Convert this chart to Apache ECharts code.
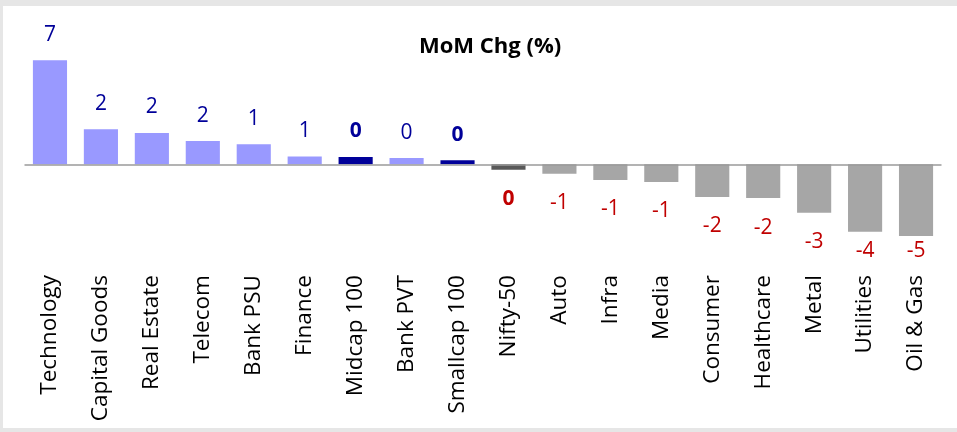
<!DOCTYPE html>
<html>
<head>
<meta charset="utf-8">
<script src="https://cdn.jsdelivr.net/npm/echarts@6/dist/echarts.min.js"></script>
<style>
  html, body { margin: 0; padding: 0; background: #fff; }
  #chart { width: 957px; height: 432px; }
</style>
</head>
<body>
<div id="chart"></div>
<script>
const categories = ['Technology', 'Capital Goods', 'Real Estate', 'Telecom', 'Bank PSU', 'Finance',
  'Midcap 100', 'Bank PVT', 'Smallcap 100', 'Nifty-50', 'Auto', 'Infra', 'Media', 'Consumer',
  'Healthcare', 'Metal', 'Utilities', 'Oil & Gas']
const momChg = [6.84, 2.30, 2.06, 1.53, 1.32, 0.51, 0.48, 0.41, 0.26, -0.36, -0.62, -1.03, -1.16,
  -2.15, -2.22, -3.18, -4.43, -4.72]
// index rows get dark bars and bold labels
const indexNames = ['Midcap 100', 'Smallcap 100', 'Nifty-50']

const FONT = '"Open Sans", "Noto Sans", sans-serif'
const Y_MIN = -6.5
const Y_MAX = 7.5

const chart = echarts.init(document.getElementById('chart'))

function barColor(name, v) {
  const isIdx = indexNames.includes(name)
  if (v >= 0) return isIdx ? '#000099' : '#9999ff'
  return isIdx ? '#595959' : '#a6a6a6'
}

function buildData(distances) {
  return momChg.map((v, i) => {
    const name = categories[i]
    const isIdx = indexNames.includes(name)
    return {
      value: v,
      itemStyle: { color: barColor(name, v) },
      label: {
        position: v >= 0 ? 'top' : 'bottom',
        distance: distances ? distances[i] : (v >= 0 ? 15 : 19),
        color: v >= 0 ? '#000099' : '#c00000',
        fontWeight: isIdx ? 'bold' : 'normal'
      }
    }
  })
}

chart.setOption({
  animation: false,
  title: {
    text: 'MoM Chg (%)',
    left: 414,
    top: 31,
    textStyle: { fontFamily: FONT, fontSize: 22, fontWeight: 'bold', color: '#000' }
  },
  grid: { left: 24.5, right: 15.5, top: 50.3, bottom: 168.9, containLabel: false },
  xAxis: {
    type: 'category',
    data: categories,
    axisLine: { show: false, onZero: false },
    axisTick: { show: false },
    axisLabel: {
      rotate: 90,
      interval: 0,
      margin: 12,
      fontFamily: FONT,
      fontSize: 22.5,
      color: '#000'
    }
  },
  yAxis: {
    type: 'value',
    min: Y_MIN,
    max: Y_MAX,
    show: false,
    splitLine: { show: false }
  },
  series: [{
    type: 'bar',
    data: buildData(null),
    barCategoryGap: '33%',
    label: {
      show: true,
      fontFamily: FONT,
      fontSize: 21,
      formatter: p => String(Math.round(p.value) || 0)
    },
    markLine: {
      silent: true,
      symbol: 'none',
      label: { show: false },
      lineStyle: { color: '#9a9a9a', width: 1.5, type: 'solid' },
      data: [{ yAxis: 0 }]
    },
    z: 2
  }],
  graphic: [
    { type: 'rect', shape: { x: 0, y: 0, width: 957, height: 6 }, style: { fill: '#e6e6e6' } },
    { type: 'rect', shape: { x: 0, y: 0, width: 3, height: 432 }, style: { fill: '#e6e6e6' } },
    { type: 'rect', shape: { x: 0, y: 428, width: 957, height: 4 }, style: { fill: '#e6e6e6' } }
  ]
})

// keep negative labels inside the plot: squeeze the distance for the deepest bars
const floorPx = chart.convertToPixel({ yAxisIndex: 0 }, Y_MIN) - 12
const distances = momChg.map(v => {
  if (v >= 0) return 15
  const bottom = chart.convertToPixel({ yAxisIndex: 0 }, v)
  return Math.max(4, Math.min(19, floorPx - 10.5 - bottom))
})
chart.setOption({ series: [{ data: buildData(distances) }] })
</script>
</body>
</html>
